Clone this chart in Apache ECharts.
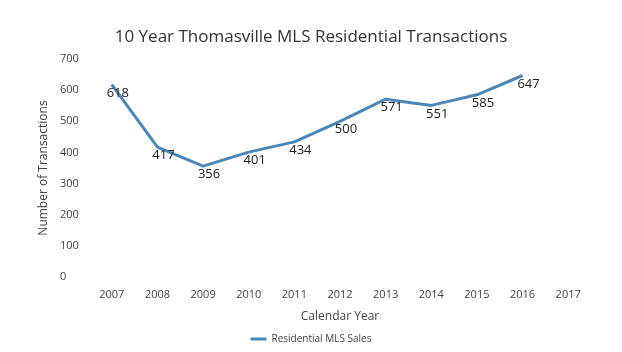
<!DOCTYPE html>
<html>
<head>
<meta charset="utf-8">
<script src="https://cdn.jsdelivr.net/npm/echarts@6/dist/echarts.min.js"></script>
<style>
  html, body { margin: 0; padding: 0; background: #fff; }
  #chart { width: 622px; height: 352px; }
</style>
</head>
<body>
<div id="chart"></div>
<script>
// data
const years = ['2007', '2008', '2009', '2010', '2011', '2012', '2013', '2014', '2015', '2016', '2017'];
const sales = [618, 417, 356, 401, 434, 500, 571, 551, 585, 647, null];
const yTicks = { min: 0, max: 700, interval: 100 };

const font = '"Open Sans", "Noto Sans", sans-serif';
const lineColor = '#4a88ba';

const chart = echarts.init(document.getElementById('chart'));
chart.setOption({
  animation: false,
  textStyle: { fontFamily: font },
  title: {
    text: '10 Year Thomasville MLS Residential Transactions',
    left: 'center',
    top: 24,
    textStyle: { fontFamily: font, fontSize: 17, fontWeight: 'normal', color: '#333' }
  },
  legend: {
    bottom: 3,
    left: 'center',
    itemWidth: 16,
    itemHeight: 3,
    icon: 'rect',
    textStyle: { fontFamily: font, fontSize: 10, color: '#444' },
    data: ['Residential MLS Sales']
  },
  grid: { left: 89, right: 31, top: 59, bottom: 75 },
  xAxis: {
    type: 'category',
    data: years,
    boundaryGap: true,
    name: 'Calendar Year',
    nameLocation: 'middle',
    nameGap: 34,
    nameTextStyle: { fontFamily: font, fontSize: 12, color: '#444' },
    axisLine: { show: false },
    axisTick: { show: false },
    axisLabel: { fontFamily: font, fontSize: 11, color: '#444', margin: 12 }
  },
  yAxis: {
    type: 'value',
    min: yTicks.min,
    max: yTicks.max,
    interval: yTicks.interval,
    name: 'Number of Transactions',
    nameLocation: 'middle',
    nameGap: 38,
    nameTextStyle: { fontFamily: font, fontSize: 12, color: '#444' },
    axisLine: { show: false },
    axisTick: { show: false },
    splitLine: { show: false },
    axisLabel: { fontFamily: font, fontSize: 11, color: '#444', margin: 29, align: 'left' }
  },
  series: [{
    name: 'Residential MLS Sales',
    type: 'line',
    data: sales,
    symbol: 'circle',
    symbolSize: 0,
    showSymbol: true,
    lineStyle: { color: lineColor, width: 3 },
    itemStyle: { color: lineColor },
    label: {
      show: true,
      position: 'bottom',
      distance: 2,
      offset: [6, 0],
      fontFamily: font,
      fontSize: 13,
      color: '#222'
    }
  }]
});
</script>
</body>
</html>
